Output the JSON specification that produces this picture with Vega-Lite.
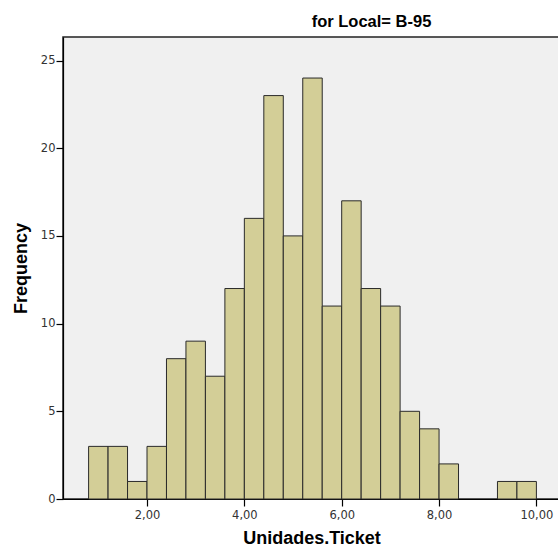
{
  "$schema": "https://vega.github.io/schema/vega-lite/v6.json",
  "autosize": "none",
  "width": 497,
  "height": 462,
  "padding": {"left": 63, "top": 37, "right": 0, "bottom": 54},
  "background": "#FFFFFF",
  "title": {
    "text": "for Local= B-95",
    "anchor": "middle",
    "dx": 60,
    "offset": 7,
    "font": "Liberation Sans",
    "fontSize": 16.5,
    "fontWeight": "bold",
    "color": "#000000"
  },
  "data": {
    "values": [
      {"bin_start": 0.8, "bin_end": 1.2, "count": 3},
      {"bin_start": 1.2, "bin_end": 1.6, "count": 3},
      {"bin_start": 1.6, "bin_end": 2.0, "count": 1},
      {"bin_start": 2.0, "bin_end": 2.4, "count": 3},
      {"bin_start": 2.4, "bin_end": 2.8, "count": 8},
      {"bin_start": 2.8, "bin_end": 3.2, "count": 9},
      {"bin_start": 3.2, "bin_end": 3.6, "count": 7},
      {"bin_start": 3.6, "bin_end": 4.0, "count": 12},
      {"bin_start": 4.0, "bin_end": 4.4, "count": 16},
      {"bin_start": 4.4, "bin_end": 4.8, "count": 23},
      {"bin_start": 4.8, "bin_end": 5.2, "count": 15},
      {"bin_start": 5.2, "bin_end": 5.6, "count": 24},
      {"bin_start": 5.6, "bin_end": 6.0, "count": 11},
      {"bin_start": 6.0, "bin_end": 6.4, "count": 17},
      {"bin_start": 6.4, "bin_end": 6.8, "count": 12},
      {"bin_start": 6.8, "bin_end": 7.2, "count": 11},
      {"bin_start": 7.2, "bin_end": 7.6, "count": 5},
      {"bin_start": 7.6, "bin_end": 8.0, "count": 4},
      {"bin_start": 8.0, "bin_end": 8.4, "count": 2},
      {"bin_start": 9.2, "bin_end": 9.6, "count": 1},
      {"bin_start": 9.6, "bin_end": 10.0, "count": 1}
    ]
  },
  "mark": {"type": "rect", "fill": "#D3CE97", "stroke": "#2A2A2A", "strokeWidth": 1},
  "encoding": {
    "x": {
      "field": "bin_start",
      "type": "quantitative",
      "scale": {"domain": [0.274, 10.485], "nice": false, "zero": false},
      "axis": {
        "title": "Unidades.Ticket",
        "values": [2, 4, 6, 8, 10],
        "labelExpr": "replace(format(datum.value, '.2f'), '.', ',')",
        "grid": false,
        "domainColor": "#000000",
        "tickColor": "#000000",
        "tickSize": 7,
        "labelPadding": 3,
        "labelFont": "DejaVu Sans",
        "labelFontSize": 11.5,
        "labelColor": "#333333",
        "titleFont": "Liberation Sans",
        "titleFontSize": 18,
        "titleFontWeight": "bold",
        "titleColor": "#000000",
        "titlePadding": 9
      }
    },
    "x2": {"field": "bin_end"},
    "y": {
      "field": "count",
      "type": "quantitative",
      "scale": {"domain": [0, 26.34], "nice": false},
      "axis": {
        "title": "Frequency",
        "values": [0, 5, 10, 15, 20, 25],
        "grid": false,
        "domainColor": "#000000",
        "tickColor": "#000000",
        "tickSize": 7,
        "labelPadding": 1,
        "labelFont": "DejaVu Sans",
        "labelFontSize": 11.5,
        "labelColor": "#333333",
        "titleFont": "Liberation Sans",
        "titleFontSize": 18,
        "titleFontWeight": "bold",
        "titleColor": "#000000",
        "titlePadding": 10
      }
    },
    "y2": {"datum": 0}
  },
  "config": {
    "view": {"fill": "#F0F0F0", "stroke": "#222222", "strokeWidth": 1.5},
    "axis": {"domainWidth": 1.2, "tickWidth": 1.2}
  }
}
